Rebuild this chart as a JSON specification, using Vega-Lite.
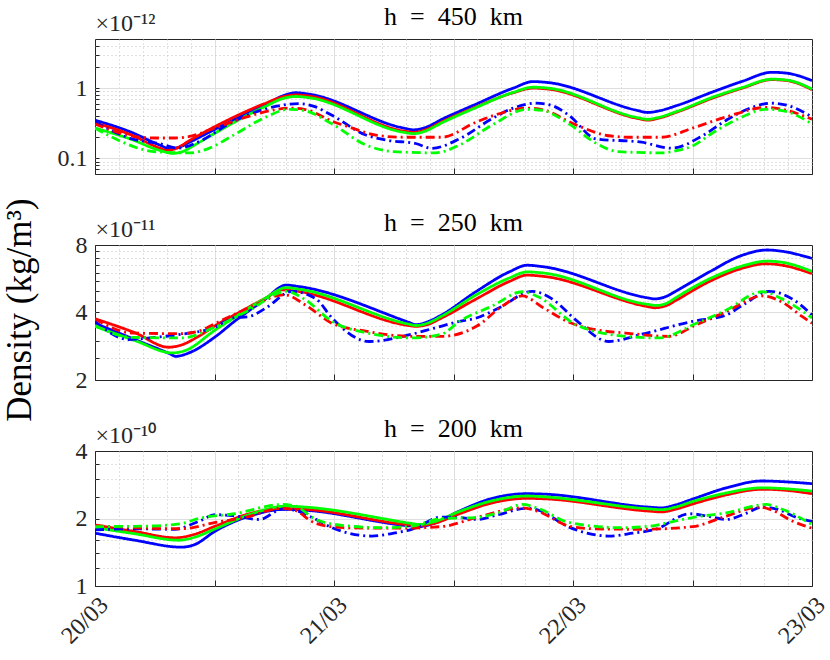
{
"$schema": "https://vega.github.io/schema/vega-lite/v6.json",
"padding": {"left": 3, "top": 3, "right": 0, "bottom": 2},
"title": {"text": "Density (kg/m³)", "orient": "left", "anchor": "middle", "fontSize": 35, "offset": 18, "dx": 16, "font": "Liberation Serif", "fontWeight": "normal", "color": "#000000"},
"data": {"values": [
{"alt":450,"col":"blue","sty":"solid","t":"2015-03-20T00:00","v":0.35},
{"alt":450,"col":"blue","sty":"solid","t":"2015-03-20T03:30","v":0.24},
{"alt":450,"col":"blue","sty":"solid","t":"2015-03-20T06:30","v":0.155},
{"alt":450,"col":"blue","sty":"solid","t":"2015-03-20T07:30","v":0.137},
{"alt":450,"col":"blue","sty":"solid","t":"2015-03-20T08:30","v":0.145},
{"alt":450,"col":"blue","sty":"solid","t":"2015-03-20T09:30","v":0.17},
{"alt":450,"col":"blue","sty":"solid","t":"2015-03-20T13:30","v":0.33},
{"alt":450,"col":"blue","sty":"solid","t":"2015-03-20T17:00","v":0.57},
{"alt":450,"col":"blue","sty":"solid","t":"2015-03-20T19:00","v":0.79},
{"alt":450,"col":"blue","sty":"solid","t":"2015-03-20T20:12","v":0.86},
{"alt":450,"col":"blue","sty":"solid","t":"2015-03-20T21:30","v":0.82},
{"alt":450,"col":"blue","sty":"solid","t":"2015-03-21T07:00","v":0.27},
{"alt":450,"col":"blue","sty":"solid","t":"2015-03-21T08:00","v":0.255},
{"alt":450,"col":"blue","sty":"solid","t":"2015-03-21T09:00","v":0.27},
{"alt":450,"col":"blue","sty":"solid","t":"2015-03-21T11:00","v":0.37},
{"alt":450,"col":"blue","sty":"solid","t":"2015-03-21T14:00","v":0.57},
{"alt":450,"col":"blue","sty":"solid","t":"2015-03-21T18:00","v":1.0},
{"alt":450,"col":"blue","sty":"solid","t":"2015-03-21T20:00","v":1.24},
{"alt":450,"col":"blue","sty":"solid","t":"2015-03-21T21:30","v":1.2},
{"alt":450,"col":"blue","sty":"solid","t":"2015-03-22T06:30","v":0.48},
{"alt":450,"col":"blue","sty":"solid","t":"2015-03-22T07:30","v":0.45},
{"alt":450,"col":"blue","sty":"solid","t":"2015-03-22T08:30","v":0.47},
{"alt":450,"col":"blue","sty":"solid","t":"2015-03-22T10:30","v":0.57},
{"alt":450,"col":"blue","sty":"solid","t":"2015-03-22T14:00","v":0.88},
{"alt":450,"col":"blue","sty":"solid","t":"2015-03-22T17:00","v":1.25},
{"alt":450,"col":"blue","sty":"solid","t":"2015-03-22T20:00","v":1.68},
{"alt":450,"col":"blue","sty":"solid","t":"2015-03-22T21:30","v":1.63},
{"alt":450,"col":"blue","sty":"solid","t":"2015-03-23T00:00","v":1.28},
{"alt":450,"col":"red","sty":"solid","t":"2015-03-20T00:00","v":0.32},
{"alt":450,"col":"red","sty":"solid","t":"2015-03-20T03:30","v":0.22},
{"alt":450,"col":"red","sty":"solid","t":"2015-03-20T06:30","v":0.14},
{"alt":450,"col":"red","sty":"solid","t":"2015-03-20T07:12","v":0.13},
{"alt":450,"col":"red","sty":"solid","t":"2015-03-20T08:12","v":0.14},
{"alt":450,"col":"red","sty":"solid","t":"2015-03-20T09:30","v":0.18},
{"alt":450,"col":"red","sty":"solid","t":"2015-03-20T13:30","v":0.36},
{"alt":450,"col":"red","sty":"solid","t":"2015-03-20T17:00","v":0.6},
{"alt":450,"col":"red","sty":"solid","t":"2015-03-20T19:00","v":0.76},
{"alt":450,"col":"red","sty":"solid","t":"2015-03-20T20:12","v":0.8},
{"alt":450,"col":"red","sty":"solid","t":"2015-03-20T21:30","v":0.77},
{"alt":450,"col":"red","sty":"solid","t":"2015-03-21T07:00","v":0.245},
{"alt":450,"col":"red","sty":"solid","t":"2015-03-21T08:00","v":0.235},
{"alt":450,"col":"red","sty":"solid","t":"2015-03-21T09:00","v":0.25},
{"alt":450,"col":"red","sty":"solid","t":"2015-03-21T11:00","v":0.34},
{"alt":450,"col":"red","sty":"solid","t":"2015-03-21T14:00","v":0.52},
{"alt":450,"col":"red","sty":"solid","t":"2015-03-21T18:00","v":0.86},
{"alt":450,"col":"red","sty":"solid","t":"2015-03-21T20:00","v":1.0},
{"alt":450,"col":"red","sty":"solid","t":"2015-03-21T21:30","v":0.97},
{"alt":450,"col":"red","sty":"solid","t":"2015-03-22T06:30","v":0.37},
{"alt":450,"col":"red","sty":"solid","t":"2015-03-22T07:30","v":0.35},
{"alt":450,"col":"red","sty":"solid","t":"2015-03-22T08:30","v":0.37},
{"alt":450,"col":"red","sty":"solid","t":"2015-03-22T10:30","v":0.46},
{"alt":450,"col":"red","sty":"solid","t":"2015-03-22T14:00","v":0.72},
{"alt":450,"col":"red","sty":"solid","t":"2015-03-22T17:00","v":1.0},
{"alt":450,"col":"red","sty":"solid","t":"2015-03-22T20:00","v":1.32},
{"alt":450,"col":"red","sty":"solid","t":"2015-03-22T21:30","v":1.28},
{"alt":450,"col":"red","sty":"solid","t":"2015-03-23T00:00","v":0.95},
{"alt":450,"col":"green","sty":"solid","t":"2015-03-20T00:00","v":0.27},
{"alt":450,"col":"green","sty":"solid","t":"2015-03-20T03:30","v":0.19},
{"alt":450,"col":"green","sty":"solid","t":"2015-03-20T06:30","v":0.13},
{"alt":450,"col":"green","sty":"solid","t":"2015-03-20T07:48","v":0.118},
{"alt":450,"col":"green","sty":"solid","t":"2015-03-20T08:48","v":0.125},
{"alt":450,"col":"green","sty":"solid","t":"2015-03-20T10:00","v":0.155},
{"alt":450,"col":"green","sty":"solid","t":"2015-03-20T13:30","v":0.3},
{"alt":450,"col":"green","sty":"solid","t":"2015-03-20T17:00","v":0.54},
{"alt":450,"col":"green","sty":"solid","t":"2015-03-20T19:00","v":0.72},
{"alt":450,"col":"green","sty":"solid","t":"2015-03-20T20:12","v":0.76},
{"alt":450,"col":"green","sty":"solid","t":"2015-03-20T21:30","v":0.73},
{"alt":450,"col":"green","sty":"solid","t":"2015-03-21T07:00","v":0.235},
{"alt":450,"col":"green","sty":"solid","t":"2015-03-21T08:00","v":0.225},
{"alt":450,"col":"green","sty":"solid","t":"2015-03-21T09:00","v":0.24},
{"alt":450,"col":"green","sty":"solid","t":"2015-03-21T11:00","v":0.33},
{"alt":450,"col":"green","sty":"solid","t":"2015-03-21T14:00","v":0.51},
{"alt":450,"col":"green","sty":"solid","t":"2015-03-21T18:00","v":0.87},
{"alt":450,"col":"green","sty":"solid","t":"2015-03-21T20:00","v":1.03},
{"alt":450,"col":"green","sty":"solid","t":"2015-03-21T21:30","v":1.0},
{"alt":450,"col":"green","sty":"solid","t":"2015-03-22T06:30","v":0.38},
{"alt":450,"col":"green","sty":"solid","t":"2015-03-22T07:30","v":0.36},
{"alt":450,"col":"green","sty":"solid","t":"2015-03-22T08:30","v":0.38},
{"alt":450,"col":"green","sty":"solid","t":"2015-03-22T10:30","v":0.47},
{"alt":450,"col":"green","sty":"solid","t":"2015-03-22T14:00","v":0.74},
{"alt":450,"col":"green","sty":"solid","t":"2015-03-22T17:00","v":1.02},
{"alt":450,"col":"green","sty":"solid","t":"2015-03-22T20:00","v":1.34},
{"alt":450,"col":"green","sty":"solid","t":"2015-03-22T21:30","v":1.3},
{"alt":450,"col":"green","sty":"solid","t":"2015-03-23T00:00","v":0.97},
{"alt":450,"col":"blue","sty":"dashdot","t":"2015-03-20T00:00","v":0.33},
{"alt":450,"col":"blue","sty":"dashdot","t":"2015-03-20T03:42","v":0.19},
{"alt":450,"col":"blue","sty":"dashdot","t":"2015-03-20T06:24","v":0.163},
{"alt":450,"col":"blue","sty":"dashdot","t":"2015-03-20T08:24","v":0.14},
{"alt":450,"col":"blue","sty":"dashdot","t":"2015-03-20T10:24","v":0.172},
{"alt":450,"col":"blue","sty":"dashdot","t":"2015-03-20T13:48","v":0.33},
{"alt":450,"col":"blue","sty":"dashdot","t":"2015-03-20T17:00","v":0.5},
{"alt":450,"col":"blue","sty":"dashdot","t":"2015-03-20T20:30","v":0.6},
{"alt":450,"col":"blue","sty":"dashdot","t":"2015-03-20T22:00","v":0.55},
{"alt":450,"col":"blue","sty":"dashdot","t":"2015-03-20T23:48","v":0.41},
{"alt":450,"col":"blue","sty":"dashdot","t":"2015-03-21T03:12","v":0.215},
{"alt":450,"col":"blue","sty":"dashdot","t":"2015-03-21T05:30","v":0.18},
{"alt":450,"col":"blue","sty":"dashdot","t":"2015-03-21T08:12","v":0.163},
{"alt":450,"col":"blue","sty":"dashdot","t":"2015-03-21T09:48","v":0.139},
{"alt":450,"col":"blue","sty":"dashdot","t":"2015-03-21T12:36","v":0.19},
{"alt":450,"col":"blue","sty":"dashdot","t":"2015-03-21T15:54","v":0.37},
{"alt":450,"col":"blue","sty":"dashdot","t":"2015-03-21T18:00","v":0.52},
{"alt":450,"col":"blue","sty":"dashdot","t":"2015-03-21T20:18","v":0.61},
{"alt":450,"col":"blue","sty":"dashdot","t":"2015-03-21T21:48","v":0.57},
{"alt":450,"col":"blue","sty":"dashdot","t":"2015-03-21T23:36","v":0.41},
{"alt":450,"col":"blue","sty":"dashdot","t":"2015-03-22T02:18","v":0.19},
{"alt":450,"col":"blue","sty":"dashdot","t":"2015-03-22T06:54","v":0.17},
{"alt":450,"col":"blue","sty":"dashdot","t":"2015-03-22T09:54","v":0.14},
{"alt":450,"col":"blue","sty":"dashdot","t":"2015-03-22T13:00","v":0.21},
{"alt":450,"col":"blue","sty":"dashdot","t":"2015-03-22T15:24","v":0.35},
{"alt":450,"col":"blue","sty":"dashdot","t":"2015-03-22T17:30","v":0.5},
{"alt":450,"col":"blue","sty":"dashdot","t":"2015-03-22T19:54","v":0.61},
{"alt":450,"col":"blue","sty":"dashdot","t":"2015-03-22T21:30","v":0.57},
{"alt":450,"col":"blue","sty":"dashdot","t":"2015-03-23T00:00","v":0.39},
{"alt":450,"col":"red","sty":"dashdot","t":"2015-03-20T00:00","v":0.31},
{"alt":450,"col":"red","sty":"dashdot","t":"2015-03-20T03:00","v":0.22},
{"alt":450,"col":"red","sty":"dashdot","t":"2015-03-20T04:30","v":0.2},
{"alt":450,"col":"red","sty":"dashdot","t":"2015-03-20T06:00","v":0.195},
{"alt":450,"col":"red","sty":"dashdot","t":"2015-03-20T08:00","v":0.195},
{"alt":450,"col":"red","sty":"dashdot","t":"2015-03-20T09:30","v":0.205},
{"alt":450,"col":"red","sty":"dashdot","t":"2015-03-20T12:00","v":0.27},
{"alt":450,"col":"red","sty":"dashdot","t":"2015-03-20T15:00","v":0.38},
{"alt":450,"col":"red","sty":"dashdot","t":"2015-03-20T18:00","v":0.49},
{"alt":450,"col":"red","sty":"dashdot","t":"2015-03-20T19:30","v":0.52},
{"alt":450,"col":"red","sty":"dashdot","t":"2015-03-20T21:00","v":0.5},
{"alt":450,"col":"red","sty":"dashdot","t":"2015-03-21T00:00","v":0.33},
{"alt":450,"col":"red","sty":"dashdot","t":"2015-03-21T01:30","v":0.28},
{"alt":450,"col":"red","sty":"dashdot","t":"2015-03-21T04:12","v":0.215},
{"alt":450,"col":"red","sty":"dashdot","t":"2015-03-21T07:00","v":0.2},
{"alt":450,"col":"red","sty":"dashdot","t":"2015-03-21T10:48","v":0.2},
{"alt":450,"col":"red","sty":"dashdot","t":"2015-03-21T14:18","v":0.33},
{"alt":450,"col":"red","sty":"dashdot","t":"2015-03-21T17:00","v":0.45},
{"alt":450,"col":"red","sty":"dashdot","t":"2015-03-21T19:18","v":0.52},
{"alt":450,"col":"red","sty":"dashdot","t":"2015-03-21T21:00","v":0.49},
{"alt":450,"col":"red","sty":"dashdot","t":"2015-03-22T00:18","v":0.3},
{"alt":450,"col":"red","sty":"dashdot","t":"2015-03-22T03:36","v":0.21},
{"alt":450,"col":"red","sty":"dashdot","t":"2015-03-22T06:00","v":0.2},
{"alt":450,"col":"red","sty":"dashdot","t":"2015-03-22T08:54","v":0.2},
{"alt":450,"col":"red","sty":"dashdot","t":"2015-03-22T12:00","v":0.27},
{"alt":450,"col":"red","sty":"dashdot","t":"2015-03-22T15:24","v":0.39},
{"alt":450,"col":"red","sty":"dashdot","t":"2015-03-22T19:24","v":0.53},
{"alt":450,"col":"red","sty":"dashdot","t":"2015-03-22T21:00","v":0.5},
{"alt":450,"col":"red","sty":"dashdot","t":"2015-03-23T00:00","v":0.36},
{"alt":450,"col":"green","sty":"dashdot","t":"2015-03-20T00:00","v":0.27},
{"alt":450,"col":"green","sty":"dashdot","t":"2015-03-20T03:00","v":0.165},
{"alt":450,"col":"green","sty":"dashdot","t":"2015-03-20T04:42","v":0.135},
{"alt":450,"col":"green","sty":"dashdot","t":"2015-03-20T06:30","v":0.123},
{"alt":450,"col":"green","sty":"dashdot","t":"2015-03-20T09:30","v":0.12},
{"alt":450,"col":"green","sty":"dashdot","t":"2015-03-20T11:30","v":0.14},
{"alt":450,"col":"green","sty":"dashdot","t":"2015-03-20T13:48","v":0.21},
{"alt":450,"col":"green","sty":"dashdot","t":"2015-03-20T17:12","v":0.39},
{"alt":450,"col":"green","sty":"dashdot","t":"2015-03-20T19:30","v":0.5},
{"alt":450,"col":"green","sty":"dashdot","t":"2015-03-20T21:00","v":0.48},
{"alt":450,"col":"green","sty":"dashdot","t":"2015-03-20T23:48","v":0.31},
{"alt":450,"col":"green","sty":"dashdot","t":"2015-03-21T03:12","v":0.155},
{"alt":450,"col":"green","sty":"dashdot","t":"2015-03-21T06:00","v":0.125},
{"alt":450,"col":"green","sty":"dashdot","t":"2015-03-21T10:12","v":0.12},
{"alt":450,"col":"green","sty":"dashdot","t":"2015-03-21T12:36","v":0.155},
{"alt":450,"col":"green","sty":"dashdot","t":"2015-03-21T15:54","v":0.3},
{"alt":450,"col":"green","sty":"dashdot","t":"2015-03-21T19:24","v":0.5},
{"alt":450,"col":"green","sty":"dashdot","t":"2015-03-21T21:00","v":0.48},
{"alt":450,"col":"green","sty":"dashdot","t":"2015-03-21T23:36","v":0.31},
{"alt":450,"col":"green","sty":"dashdot","t":"2015-03-22T02:18","v":0.165},
{"alt":450,"col":"green","sty":"dashdot","t":"2015-03-22T04:30","v":0.125},
{"alt":450,"col":"green","sty":"dashdot","t":"2015-03-22T09:00","v":0.12},
{"alt":450,"col":"green","sty":"dashdot","t":"2015-03-22T10:30","v":0.13},
{"alt":450,"col":"green","sty":"dashdot","t":"2015-03-22T12:00","v":0.15},
{"alt":450,"col":"green","sty":"dashdot","t":"2015-03-22T14:00","v":0.23},
{"alt":450,"col":"green","sty":"dashdot","t":"2015-03-22T16:30","v":0.36},
{"alt":450,"col":"green","sty":"dashdot","t":"2015-03-22T19:24","v":0.5},
{"alt":450,"col":"green","sty":"dashdot","t":"2015-03-22T21:00","v":0.48},
{"alt":450,"col":"green","sty":"dashdot","t":"2015-03-23T00:00","v":0.31},
{"alt":250,"col":"blue","sty":"solid","t":"2015-03-20T00:00","v":3.58},
{"alt":250,"col":"blue","sty":"solid","t":"2015-03-20T04:00","v":3.03},
{"alt":250,"col":"blue","sty":"solid","t":"2015-03-20T07:30","v":2.62},
{"alt":250,"col":"blue","sty":"solid","t":"2015-03-20T08:06","v":2.55},
{"alt":250,"col":"blue","sty":"solid","t":"2015-03-20T09:30","v":2.65},
{"alt":250,"col":"blue","sty":"solid","t":"2015-03-20T12:00","v":3.1},
{"alt":250,"col":"blue","sty":"solid","t":"2015-03-20T14:00","v":3.65},
{"alt":250,"col":"blue","sty":"solid","t":"2015-03-20T17:00","v":4.55},
{"alt":250,"col":"blue","sty":"solid","t":"2015-03-20T19:12","v":5.3},
{"alt":250,"col":"blue","sty":"solid","t":"2015-03-20T20:30","v":5.22},
{"alt":250,"col":"blue","sty":"solid","t":"2015-03-21T07:30","v":3.62},
{"alt":250,"col":"blue","sty":"solid","t":"2015-03-21T08:12","v":3.53},
{"alt":250,"col":"blue","sty":"solid","t":"2015-03-21T09:30","v":3.65},
{"alt":250,"col":"blue","sty":"solid","t":"2015-03-21T10:48","v":3.9},
{"alt":250,"col":"blue","sty":"solid","t":"2015-03-21T14:18","v":4.97},
{"alt":250,"col":"blue","sty":"solid","t":"2015-03-21T17:36","v":6.07},
{"alt":250,"col":"blue","sty":"solid","t":"2015-03-21T19:24","v":6.5},
{"alt":250,"col":"blue","sty":"solid","t":"2015-03-21T21:00","v":6.4},
{"alt":250,"col":"blue","sty":"solid","t":"2015-03-22T07:30","v":4.65},
{"alt":250,"col":"blue","sty":"solid","t":"2015-03-22T08:12","v":4.6},
{"alt":250,"col":"blue","sty":"solid","t":"2015-03-22T09:30","v":4.75},
{"alt":250,"col":"blue","sty":"solid","t":"2015-03-22T10:18","v":4.97},
{"alt":250,"col":"blue","sty":"solid","t":"2015-03-22T13:42","v":6.07},
{"alt":250,"col":"blue","sty":"solid","t":"2015-03-22T17:00","v":7.2},
{"alt":250,"col":"blue","sty":"solid","t":"2015-03-22T19:30","v":7.6},
{"alt":250,"col":"blue","sty":"solid","t":"2015-03-22T21:00","v":7.5},
{"alt":250,"col":"blue","sty":"solid","t":"2015-03-23T00:00","v":6.97},
{"alt":250,"col":"red","sty":"solid","t":"2015-03-20T00:00","v":3.75},
{"alt":250,"col":"red","sty":"solid","t":"2015-03-20T04:00","v":3.25},
{"alt":250,"col":"red","sty":"solid","t":"2015-03-20T07:24","v":2.8},
{"alt":250,"col":"red","sty":"solid","t":"2015-03-20T08:30","v":2.85},
{"alt":250,"col":"red","sty":"solid","t":"2015-03-20T10:30","v":3.15},
{"alt":250,"col":"red","sty":"solid","t":"2015-03-20T12:06","v":3.5},
{"alt":250,"col":"red","sty":"solid","t":"2015-03-20T14:00","v":3.9},
{"alt":250,"col":"red","sty":"solid","t":"2015-03-20T17:00","v":4.6},
{"alt":250,"col":"red","sty":"solid","t":"2015-03-20T18:48","v":5.05},
{"alt":250,"col":"red","sty":"solid","t":"2015-03-20T20:12","v":4.98},
{"alt":250,"col":"red","sty":"solid","t":"2015-03-21T07:30","v":3.5},
{"alt":250,"col":"red","sty":"solid","t":"2015-03-21T08:12","v":3.47},
{"alt":250,"col":"red","sty":"solid","t":"2015-03-21T09:30","v":3.55},
{"alt":250,"col":"red","sty":"solid","t":"2015-03-21T10:48","v":3.78},
{"alt":250,"col":"red","sty":"solid","t":"2015-03-21T14:18","v":4.6},
{"alt":250,"col":"red","sty":"solid","t":"2015-03-21T17:36","v":5.5},
{"alt":250,"col":"red","sty":"solid","t":"2015-03-21T19:24","v":5.87},
{"alt":250,"col":"red","sty":"solid","t":"2015-03-21T21:00","v":5.8},
{"alt":250,"col":"red","sty":"solid","t":"2015-03-22T07:30","v":4.25},
{"alt":250,"col":"red","sty":"solid","t":"2015-03-22T08:12","v":4.2},
{"alt":250,"col":"red","sty":"solid","t":"2015-03-22T09:30","v":4.32},
{"alt":250,"col":"red","sty":"solid","t":"2015-03-22T10:18","v":4.52},
{"alt":250,"col":"red","sty":"solid","t":"2015-03-22T13:42","v":5.5},
{"alt":250,"col":"red","sty":"solid","t":"2015-03-22T17:00","v":6.3},
{"alt":250,"col":"red","sty":"solid","t":"2015-03-22T19:24","v":6.6},
{"alt":250,"col":"red","sty":"solid","t":"2015-03-22T21:00","v":6.5},
{"alt":250,"col":"red","sty":"solid","t":"2015-03-23T00:00","v":5.96},
{"alt":250,"col":"green","sty":"solid","t":"2015-03-20T00:00","v":3.47},
{"alt":250,"col":"green","sty":"solid","t":"2015-03-20T04:00","v":3.0},
{"alt":250,"col":"green","sty":"solid","t":"2015-03-20T07:48","v":2.64},
{"alt":250,"col":"green","sty":"solid","t":"2015-03-20T09:00","v":2.7},
{"alt":250,"col":"green","sty":"solid","t":"2015-03-20T12:06","v":3.35},
{"alt":250,"col":"green","sty":"solid","t":"2015-03-20T14:00","v":3.8},
{"alt":250,"col":"green","sty":"solid","t":"2015-03-20T17:00","v":4.6},
{"alt":250,"col":"green","sty":"solid","t":"2015-03-20T19:12","v":5.16},
{"alt":250,"col":"green","sty":"solid","t":"2015-03-20T20:30","v":5.08},
{"alt":250,"col":"green","sty":"solid","t":"2015-03-21T07:30","v":3.55},
{"alt":250,"col":"green","sty":"solid","t":"2015-03-21T08:12","v":3.5},
{"alt":250,"col":"green","sty":"solid","t":"2015-03-21T09:30","v":3.6},
{"alt":250,"col":"green","sty":"solid","t":"2015-03-21T10:48","v":3.85},
{"alt":250,"col":"green","sty":"solid","t":"2015-03-21T14:18","v":4.8},
{"alt":250,"col":"green","sty":"solid","t":"2015-03-21T17:36","v":5.7},
{"alt":250,"col":"green","sty":"solid","t":"2015-03-21T19:24","v":6.07},
{"alt":250,"col":"green","sty":"solid","t":"2015-03-21T21:00","v":6.0},
{"alt":250,"col":"green","sty":"solid","t":"2015-03-22T07:30","v":4.35},
{"alt":250,"col":"green","sty":"solid","t":"2015-03-22T08:30","v":4.3},
{"alt":250,"col":"green","sty":"solid","t":"2015-03-22T09:30","v":4.42},
{"alt":250,"col":"green","sty":"solid","t":"2015-03-22T10:18","v":4.65},
{"alt":250,"col":"green","sty":"solid","t":"2015-03-22T13:42","v":5.65},
{"alt":250,"col":"green","sty":"solid","t":"2015-03-22T17:00","v":6.45},
{"alt":250,"col":"green","sty":"solid","t":"2015-03-22T19:30","v":6.78},
{"alt":250,"col":"green","sty":"solid","t":"2015-03-22T21:00","v":6.7},
{"alt":250,"col":"green","sty":"solid","t":"2015-03-23T00:00","v":6.1},
{"alt":250,"col":"blue","sty":"dashdot","t":"2015-03-20T00:00","v":3.65},
{"alt":250,"col":"blue","sty":"dashdot","t":"2015-03-20T03:24","v":3.03},
{"alt":250,"col":"blue","sty":"dashdot","t":"2015-03-20T06:00","v":3.1},
{"alt":250,"col":"blue","sty":"dashdot","t":"2015-03-20T08:42","v":3.2},
{"alt":250,"col":"blue","sty":"dashdot","t":"2015-03-20T12:06","v":3.45},
{"alt":250,"col":"blue","sty":"dashdot","t":"2015-03-20T13:48","v":3.78},
{"alt":250,"col":"blue","sty":"dashdot","t":"2015-03-20T15:30","v":3.84},
{"alt":250,"col":"blue","sty":"dashdot","t":"2015-03-20T17:12","v":4.2},
{"alt":250,"col":"blue","sty":"dashdot","t":"2015-03-20T19:48","v":4.97},
{"alt":250,"col":"blue","sty":"dashdot","t":"2015-03-20T22:12","v":4.6},
{"alt":250,"col":"blue","sty":"dashdot","t":"2015-03-20T23:48","v":3.78},
{"alt":250,"col":"blue","sty":"dashdot","t":"2015-03-21T03:30","v":2.97},
{"alt":250,"col":"blue","sty":"dashdot","t":"2015-03-21T07:48","v":3.2},
{"alt":250,"col":"blue","sty":"dashdot","t":"2015-03-21T10:00","v":3.4},
{"alt":250,"col":"blue","sty":"dashdot","t":"2015-03-21T12:36","v":3.65},
{"alt":250,"col":"blue","sty":"dashdot","t":"2015-03-21T14:18","v":3.78},
{"alt":250,"col":"blue","sty":"dashdot","t":"2015-03-21T16:36","v":4.2},
{"alt":250,"col":"blue","sty":"dashdot","t":"2015-03-21T19:54","v":4.97},
{"alt":250,"col":"blue","sty":"dashdot","t":"2015-03-21T21:54","v":4.6},
{"alt":250,"col":"blue","sty":"dashdot","t":"2015-03-22T00:18","v":3.7},
{"alt":250,"col":"blue","sty":"dashdot","t":"2015-03-22T03:36","v":2.97},
{"alt":250,"col":"blue","sty":"dashdot","t":"2015-03-22T06:54","v":3.2},
{"alt":250,"col":"blue","sty":"dashdot","t":"2015-03-22T12:00","v":3.65},
{"alt":250,"col":"blue","sty":"dashdot","t":"2015-03-22T15:24","v":3.9},
{"alt":250,"col":"blue","sty":"dashdot","t":"2015-03-22T17:00","v":4.3},
{"alt":250,"col":"blue","sty":"dashdot","t":"2015-03-22T19:42","v":4.97},
{"alt":250,"col":"blue","sty":"dashdot","t":"2015-03-22T22:00","v":4.6},
{"alt":250,"col":"blue","sty":"dashdot","t":"2015-03-23T00:00","v":3.9},
{"alt":250,"col":"red","sty":"dashdot","t":"2015-03-20T00:00","v":3.75},
{"alt":250,"col":"red","sty":"dashdot","t":"2015-03-20T03:42","v":3.24},
{"alt":250,"col":"red","sty":"dashdot","t":"2015-03-20T08:42","v":3.22},
{"alt":250,"col":"red","sty":"dashdot","t":"2015-03-20T10:24","v":3.3},
{"alt":250,"col":"red","sty":"dashdot","t":"2015-03-20T12:06","v":3.58},
{"alt":250,"col":"red","sty":"dashdot","t":"2015-03-20T15:30","v":4.2},
{"alt":250,"col":"red","sty":"dashdot","t":"2015-03-20T19:00","v":4.8},
{"alt":250,"col":"red","sty":"dashdot","t":"2015-03-20T21:12","v":4.3},
{"alt":250,"col":"red","sty":"dashdot","t":"2015-03-20T23:48","v":3.58},
{"alt":250,"col":"red","sty":"dashdot","t":"2015-03-21T03:12","v":3.3},
{"alt":250,"col":"red","sty":"dashdot","t":"2015-03-21T07:48","v":3.13},
{"alt":250,"col":"red","sty":"dashdot","t":"2015-03-21T10:48","v":3.13},
{"alt":250,"col":"red","sty":"dashdot","t":"2015-03-21T14:18","v":3.47},
{"alt":250,"col":"red","sty":"dashdot","t":"2015-03-21T17:00","v":4.3},
{"alt":250,"col":"red","sty":"dashdot","t":"2015-03-21T18:54","v":4.74},
{"alt":250,"col":"red","sty":"dashdot","t":"2015-03-21T21:00","v":4.2},
{"alt":250,"col":"red","sty":"dashdot","t":"2015-03-21T23:36","v":3.62},
{"alt":250,"col":"red","sty":"dashdot","t":"2015-03-22T02:18","v":3.35},
{"alt":250,"col":"red","sty":"dashdot","t":"2015-03-22T05:18","v":3.24},
{"alt":250,"col":"red","sty":"dashdot","t":"2015-03-22T09:36","v":3.13},
{"alt":250,"col":"red","sty":"dashdot","t":"2015-03-22T12:24","v":3.53},
{"alt":250,"col":"red","sty":"dashdot","t":"2015-03-22T15:24","v":4.04},
{"alt":250,"col":"red","sty":"dashdot","t":"2015-03-22T19:00","v":4.74},
{"alt":250,"col":"red","sty":"dashdot","t":"2015-03-22T21:00","v":4.45},
{"alt":250,"col":"red","sty":"dashdot","t":"2015-03-22T23:00","v":3.84},
{"alt":250,"col":"red","sty":"dashdot","t":"2015-03-23T00:00","v":3.58},
{"alt":250,"col":"green","sty":"dashdot","t":"2015-03-20T00:00","v":3.5},
{"alt":250,"col":"green","sty":"dashdot","t":"2015-03-20T03:42","v":3.1},
{"alt":250,"col":"green","sty":"dashdot","t":"2015-03-20T08:42","v":3.08},
{"alt":250,"col":"green","sty":"dashdot","t":"2015-03-20T12:06","v":3.45},
{"alt":250,"col":"green","sty":"dashdot","t":"2015-03-20T15:30","v":4.1},
{"alt":250,"col":"green","sty":"dashdot","t":"2015-03-20T19:12","v":4.97},
{"alt":250,"col":"green","sty":"dashdot","t":"2015-03-20T21:00","v":4.6},
{"alt":250,"col":"green","sty":"dashdot","t":"2015-03-20T23:48","v":3.65},
{"alt":250,"col":"green","sty":"dashdot","t":"2015-03-21T03:12","v":3.25},
{"alt":250,"col":"green","sty":"dashdot","t":"2015-03-21T07:48","v":3.08},
{"alt":250,"col":"green","sty":"dashdot","t":"2015-03-21T10:48","v":3.2},
{"alt":250,"col":"green","sty":"dashdot","t":"2015-03-21T12:36","v":3.65},
{"alt":250,"col":"green","sty":"dashdot","t":"2015-03-21T16:00","v":4.3},
{"alt":250,"col":"green","sty":"dashdot","t":"2015-03-21T18:54","v":4.95},
{"alt":250,"col":"green","sty":"dashdot","t":"2015-03-21T20:30","v":4.7},
{"alt":250,"col":"green","sty":"dashdot","t":"2015-03-22T00:18","v":3.53},
{"alt":250,"col":"green","sty":"dashdot","t":"2015-03-22T05:18","v":3.13},
{"alt":250,"col":"green","sty":"dashdot","t":"2015-03-22T08:36","v":3.08},
{"alt":250,"col":"green","sty":"dashdot","t":"2015-03-22T12:24","v":3.58},
{"alt":250,"col":"green","sty":"dashdot","t":"2015-03-22T15:24","v":4.1},
{"alt":250,"col":"green","sty":"dashdot","t":"2015-03-22T19:00","v":4.95},
{"alt":250,"col":"green","sty":"dashdot","t":"2015-03-22T21:00","v":4.6},
{"alt":250,"col":"green","sty":"dashdot","t":"2015-03-23T00:00","v":3.78},
{"alt":200,"col":"blue","sty":"solid","t":"2015-03-20T00:00","v":1.72},
{"alt":200,"col":"blue","sty":"solid","t":"2015-03-20T04:00","v":1.6},
{"alt":200,"col":"blue","sty":"solid","t":"2015-03-20T08:42","v":1.49},
{"alt":200,"col":"blue","sty":"solid","t":"2015-03-20T10:00","v":1.53},
{"alt":200,"col":"blue","sty":"solid","t":"2015-03-20T12:06","v":1.76},
{"alt":200,"col":"blue","sty":"solid","t":"2015-03-20T15:30","v":2.05},
{"alt":200,"col":"blue","sty":"solid","t":"2015-03-20T19:12","v":2.2},
{"alt":200,"col":"blue","sty":"solid","t":"2015-03-20T21:00","v":2.18},
{"alt":200,"col":"blue","sty":"solid","t":"2015-03-21T07:48","v":1.85},
{"alt":200,"col":"blue","sty":"solid","t":"2015-03-21T08:30","v":1.84},
{"alt":200,"col":"blue","sty":"solid","t":"2015-03-21T10:00","v":1.9},
{"alt":200,"col":"blue","sty":"solid","t":"2015-03-21T12:36","v":2.16},
{"alt":200,"col":"blue","sty":"solid","t":"2015-03-21T15:54","v":2.46},
{"alt":200,"col":"blue","sty":"solid","t":"2015-03-21T19:24","v":2.58},
{"alt":200,"col":"blue","sty":"solid","t":"2015-03-21T21:00","v":2.57},
{"alt":200,"col":"blue","sty":"solid","t":"2015-03-22T07:30","v":2.25},
{"alt":200,"col":"blue","sty":"solid","t":"2015-03-22T08:54","v":2.23},
{"alt":200,"col":"blue","sty":"solid","t":"2015-03-22T10:18","v":2.3},
{"alt":200,"col":"blue","sty":"solid","t":"2015-03-22T12:00","v":2.44},
{"alt":200,"col":"blue","sty":"solid","t":"2015-03-22T15:24","v":2.74},
{"alt":200,"col":"blue","sty":"solid","t":"2015-03-22T19:00","v":2.94},
{"alt":200,"col":"blue","sty":"solid","t":"2015-03-22T21:00","v":2.92},
{"alt":200,"col":"blue","sty":"solid","t":"2015-03-23T00:00","v":2.86},
{"alt":200,"col":"red","sty":"solid","t":"2015-03-20T00:00","v":1.87},
{"alt":200,"col":"red","sty":"solid","t":"2015-03-20T04:00","v":1.75},
{"alt":200,"col":"red","sty":"solid","t":"2015-03-20T08:06","v":1.64},
{"alt":200,"col":"red","sty":"solid","t":"2015-03-20T10:00","v":1.7},
{"alt":200,"col":"red","sty":"solid","t":"2015-03-20T12:06","v":1.85},
{"alt":200,"col":"red","sty":"solid","t":"2015-03-20T15:30","v":2.1},
{"alt":200,"col":"red","sty":"solid","t":"2015-03-20T18:48","v":2.22},
{"alt":200,"col":"red","sty":"solid","t":"2015-03-20T21:00","v":2.2},
{"alt":200,"col":"red","sty":"solid","t":"2015-03-21T07:48","v":1.87},
{"alt":200,"col":"red","sty":"solid","t":"2015-03-21T08:30","v":1.86},
{"alt":200,"col":"red","sty":"solid","t":"2015-03-21T10:00","v":1.9},
{"alt":200,"col":"red","sty":"solid","t":"2015-03-21T12:36","v":2.1},
{"alt":200,"col":"red","sty":"solid","t":"2015-03-21T15:54","v":2.35},
{"alt":200,"col":"red","sty":"solid","t":"2015-03-21T19:24","v":2.46},
{"alt":200,"col":"red","sty":"solid","t":"2015-03-21T21:00","v":2.45},
{"alt":200,"col":"red","sty":"solid","t":"2015-03-22T07:30","v":2.16},
{"alt":200,"col":"red","sty":"solid","t":"2015-03-22T08:54","v":2.14},
{"alt":200,"col":"red","sty":"solid","t":"2015-03-22T10:18","v":2.2},
{"alt":200,"col":"red","sty":"solid","t":"2015-03-22T12:00","v":2.32},
{"alt":200,"col":"red","sty":"solid","t":"2015-03-22T15:24","v":2.55},
{"alt":200,"col":"red","sty":"solid","t":"2015-03-22T19:00","v":2.7},
{"alt":200,"col":"red","sty":"solid","t":"2015-03-22T21:00","v":2.68},
{"alt":200,"col":"red","sty":"solid","t":"2015-03-23T00:00","v":2.58},
{"alt":200,"col":"green","sty":"solid","t":"2015-03-20T00:00","v":1.82},
{"alt":200,"col":"green","sty":"solid","t":"2015-03-20T04:00","v":1.71},
{"alt":200,"col":"green","sty":"solid","t":"2015-03-20T08:24","v":1.6},
{"alt":200,"col":"green","sty":"solid","t":"2015-03-20T10:00","v":1.65},
{"alt":200,"col":"green","sty":"solid","t":"2015-03-20T12:06","v":1.8},
{"alt":200,"col":"green","sty":"solid","t":"2015-03-20T15:30","v":2.08},
{"alt":200,"col":"green","sty":"solid","t":"2015-03-20T19:12","v":2.27},
{"alt":200,"col":"green","sty":"solid","t":"2015-03-20T21:00","v":2.25},
{"alt":200,"col":"green","sty":"solid","t":"2015-03-21T07:48","v":1.9},
{"alt":200,"col":"green","sty":"solid","t":"2015-03-21T08:30","v":1.88},
{"alt":200,"col":"green","sty":"solid","t":"2015-03-21T10:00","v":1.93},
{"alt":200,"col":"green","sty":"solid","t":"2015-03-21T12:36","v":2.15},
{"alt":200,"col":"green","sty":"solid","t":"2015-03-21T15:54","v":2.4},
{"alt":200,"col":"green","sty":"solid","t":"2015-03-21T19:24","v":2.52},
{"alt":200,"col":"green","sty":"solid","t":"2015-03-21T21:00","v":2.5},
{"alt":200,"col":"green","sty":"solid","t":"2015-03-22T07:30","v":2.21},
{"alt":200,"col":"green","sty":"solid","t":"2015-03-22T08:54","v":2.19},
{"alt":200,"col":"green","sty":"solid","t":"2015-03-22T10:18","v":2.25},
{"alt":200,"col":"green","sty":"solid","t":"2015-03-22T12:00","v":2.38},
{"alt":200,"col":"green","sty":"solid","t":"2015-03-22T15:24","v":2.6},
{"alt":200,"col":"green","sty":"solid","t":"2015-03-22T19:00","v":2.74},
{"alt":200,"col":"green","sty":"solid","t":"2015-03-22T21:00","v":2.72},
{"alt":200,"col":"green","sty":"solid","t":"2015-03-23T00:00","v":2.65},
{"alt":200,"col":"blue","sty":"dashdot","t":"2015-03-20T00:00","v":1.78},
{"alt":200,"col":"blue","sty":"dashdot","t":"2015-03-20T04:00","v":1.8},
{"alt":200,"col":"blue","sty":"dashdot","t":"2015-03-20T08:00","v":1.79},
{"alt":200,"col":"blue","sty":"dashdot","t":"2015-03-20T10:30","v":1.95},
{"alt":200,"col":"blue","sty":"dashdot","t":"2015-03-20T12:06","v":2.08},
{"alt":200,"col":"blue","sty":"dashdot","t":"2015-03-20T13:48","v":2.06},
{"alt":200,"col":"blue","sty":"dashdot","t":"2015-03-20T16:30","v":1.98},
{"alt":200,"col":"blue","sty":"dashdot","t":"2015-03-20T18:48","v":2.2},
{"alt":200,"col":"blue","sty":"dashdot","t":"2015-03-20T20:00","v":2.18},
{"alt":200,"col":"blue","sty":"dashdot","t":"2015-03-20T22:00","v":2.0},
{"alt":200,"col":"blue","sty":"dashdot","t":"2015-03-20T23:48","v":1.82},
{"alt":200,"col":"blue","sty":"dashdot","t":"2015-03-21T03:48","v":1.67},
{"alt":200,"col":"blue","sty":"dashdot","t":"2015-03-21T06:00","v":1.72},
{"alt":200,"col":"blue","sty":"dashdot","t":"2015-03-21T07:48","v":1.79},
{"alt":200,"col":"blue","sty":"dashdot","t":"2015-03-21T10:48","v":2.03},
{"alt":200,"col":"blue","sty":"dashdot","t":"2015-03-21T12:36","v":2.02},
{"alt":200,"col":"blue","sty":"dashdot","t":"2015-03-21T14:18","v":1.98},
{"alt":200,"col":"blue","sty":"dashdot","t":"2015-03-21T16:30","v":2.08},
{"alt":200,"col":"blue","sty":"dashdot","t":"2015-03-21T19:18","v":2.22},
{"alt":200,"col":"blue","sty":"dashdot","t":"2015-03-21T20:30","v":2.18},
{"alt":200,"col":"blue","sty":"dashdot","t":"2015-03-21T23:36","v":1.83},
{"alt":200,"col":"blue","sty":"dashdot","t":"2015-03-22T03:36","v":1.67},
{"alt":200,"col":"blue","sty":"dashdot","t":"2015-03-22T06:00","v":1.72},
{"alt":200,"col":"blue","sty":"dashdot","t":"2015-03-22T08:18","v":1.79},
{"alt":200,"col":"blue","sty":"dashdot","t":"2015-03-22T11:42","v":2.1},
{"alt":200,"col":"blue","sty":"dashdot","t":"2015-03-22T13:30","v":2.05},
{"alt":200,"col":"blue","sty":"dashdot","t":"2015-03-22T15:24","v":1.98},
{"alt":200,"col":"blue","sty":"dashdot","t":"2015-03-22T17:30","v":2.12},
{"alt":200,"col":"blue","sty":"dashdot","t":"2015-03-22T19:00","v":2.25},
{"alt":200,"col":"blue","sty":"dashdot","t":"2015-03-22T20:30","v":2.2},
{"alt":200,"col":"blue","sty":"dashdot","t":"2015-03-22T22:30","v":2.02},
{"alt":200,"col":"blue","sty":"dashdot","t":"2015-03-23T00:00","v":1.94},
{"alt":200,"col":"red","sty":"dashdot","t":"2015-03-20T00:00","v":1.86},
{"alt":200,"col":"red","sty":"dashdot","t":"2015-03-20T05:24","v":1.81},
{"alt":200,"col":"red","sty":"dashdot","t":"2015-03-20T08:42","v":1.8},
{"alt":200,"col":"red","sty":"dashdot","t":"2015-03-20T12:06","v":1.92},
{"alt":200,"col":"red","sty":"dashdot","t":"2015-03-20T15:00","v":2.02},
{"alt":200,"col":"red","sty":"dashdot","t":"2015-03-20T18:48","v":2.22},
{"alt":200,"col":"red","sty":"dashdot","t":"2015-03-20T20:00","v":2.18},
{"alt":200,"col":"red","sty":"dashdot","t":"2015-03-20T22:12","v":1.9},
{"alt":200,"col":"red","sty":"dashdot","t":"2015-03-21T01:00","v":1.82},
{"alt":200,"col":"red","sty":"dashdot","t":"2015-03-21T06:00","v":1.81},
{"alt":200,"col":"red","sty":"dashdot","t":"2015-03-21T10:48","v":1.84},
{"alt":200,"col":"red","sty":"dashdot","t":"2015-03-21T14:18","v":2.02},
{"alt":200,"col":"red","sty":"dashdot","t":"2015-03-21T18:54","v":2.23},
{"alt":200,"col":"red","sty":"dashdot","t":"2015-03-21T20:30","v":2.15},
{"alt":200,"col":"red","sty":"dashdot","t":"2015-03-21T23:36","v":1.85},
{"alt":200,"col":"red","sty":"dashdot","t":"2015-03-22T02:00","v":1.8},
{"alt":200,"col":"red","sty":"dashdot","t":"2015-03-22T06:54","v":1.79},
{"alt":200,"col":"red","sty":"dashdot","t":"2015-03-22T12:00","v":1.84},
{"alt":200,"col":"red","sty":"dashdot","t":"2015-03-22T15:24","v":2.05},
{"alt":200,"col":"red","sty":"dashdot","t":"2015-03-22T18:42","v":2.25},
{"alt":200,"col":"red","sty":"dashdot","t":"2015-03-22T20:00","v":2.18},
{"alt":200,"col":"red","sty":"dashdot","t":"2015-03-22T22:00","v":1.95},
{"alt":200,"col":"red","sty":"dashdot","t":"2015-03-23T00:00","v":1.81},
{"alt":200,"col":"green","sty":"dashdot","t":"2015-03-20T00:00","v":1.84},
{"alt":200,"col":"green","sty":"dashdot","t":"2015-03-20T05:24","v":1.85},
{"alt":200,"col":"green","sty":"dashdot","t":"2015-03-20T08:42","v":1.9},
{"alt":200,"col":"green","sty":"dashdot","t":"2015-03-20T10:24","v":2.0},
{"alt":200,"col":"green","sty":"dashdot","t":"2015-03-20T14:00","v":2.1},
{"alt":200,"col":"green","sty":"dashdot","t":"2015-03-20T18:48","v":2.31},
{"alt":200,"col":"green","sty":"dashdot","t":"2015-03-20T20:00","v":2.28},
{"alt":200,"col":"green","sty":"dashdot","t":"2015-03-20T22:12","v":1.98},
{"alt":200,"col":"green","sty":"dashdot","t":"2015-03-21T01:00","v":1.86},
{"alt":200,"col":"green","sty":"dashdot","t":"2015-03-21T05:00","v":1.82},
{"alt":200,"col":"green","sty":"dashdot","t":"2015-03-21T07:48","v":1.85},
{"alt":200,"col":"green","sty":"dashdot","t":"2015-03-21T10:48","v":2.0},
{"alt":200,"col":"green","sty":"dashdot","t":"2015-03-21T14:18","v":2.02},
{"alt":200,"col":"green","sty":"dashdot","t":"2015-03-21T16:30","v":2.12},
{"alt":200,"col":"green","sty":"dashdot","t":"2015-03-21T18:54","v":2.31},
{"alt":200,"col":"green","sty":"dashdot","t":"2015-03-21T20:30","v":2.22},
{"alt":200,"col":"green","sty":"dashdot","t":"2015-03-21T23:36","v":1.92},
{"alt":200,"col":"green","sty":"dashdot","t":"2015-03-22T04:54","v":1.82},
{"alt":200,"col":"green","sty":"dashdot","t":"2015-03-22T07:48","v":1.85},
{"alt":200,"col":"green","sty":"dashdot","t":"2015-03-22T09:36","v":1.92},
{"alt":200,"col":"green","sty":"dashdot","t":"2015-03-22T12:00","v":2.02},
{"alt":200,"col":"green","sty":"dashdot","t":"2015-03-22T15:24","v":2.12},
{"alt":200,"col":"green","sty":"dashdot","t":"2015-03-22T19:24","v":2.31},
{"alt":200,"col":"green","sty":"dashdot","t":"2015-03-22T21:00","v":2.2},
{"alt":200,"col":"green","sty":"dashdot","t":"2015-03-23T00:00","v":1.88}
]},
"bounds": "flush",
"spacing": 71,
"vconcat": [
{
"width": 717, "height": 135,
"title": {"text": "h\u2002=\u2002450\u2002km", "offset": -19, "fontSize": 26, "font": "Liberation Serif", "fontWeight": "normal", "color": "#000000"},
"transform": [{"filter": "datum.alt == 450"}],
"mark": {"type": "line", "clip": true},
"encoding": {
"x": {"field": "t", "type": "temporal", "scale": {"domain": [{"year":2015,"month":3,"date":20},{"year":2015,"month":3,"date":23}], "nice": false},
 "axis": {"title": null, "labels": false,
  "values": [{"year":2015,"month":3,"date":20,"hours":0,"minutes":0},{"year":2015,"month":3,"date":20,"hours":2,"minutes":24},{"year":2015,"month":3,"date":20,"hours":4,"minutes":48},{"year":2015,"month":3,"date":20,"hours":7,"minutes":12},{"year":2015,"month":3,"date":20,"hours":9,"minutes":36},{"year":2015,"month":3,"date":20,"hours":12,"minutes":0},{"year":2015,"month":3,"date":20,"hours":14,"minutes":24},{"year":2015,"month":3,"date":20,"hours":16,"minutes":48},{"year":2015,"month":3,"date":20,"hours":19,"minutes":12},{"year":2015,"month":3,"date":20,"hours":21,"minutes":36},{"year":2015,"month":3,"date":21,"hours":0,"minutes":0},{"year":2015,"month":3,"date":21,"hours":2,"minutes":24},{"year":2015,"month":3,"date":21,"hours":4,"minutes":48},{"year":2015,"month":3,"date":21,"hours":7,"minutes":12},{"year":2015,"month":3,"date":21,"hours":9,"minutes":36},{"year":2015,"month":3,"date":21,"hours":12,"minutes":0},{"year":2015,"month":3,"date":21,"hours":14,"minutes":24},{"year":2015,"month":3,"date":21,"hours":16,"minutes":48},{"year":2015,"month":3,"date":21,"hours":19,"minutes":12},{"year":2015,"month":3,"date":21,"hours":21,"minutes":36},{"year":2015,"month":3,"date":22,"hours":0,"minutes":0},{"year":2015,"month":3,"date":22,"hours":2,"minutes":24},{"year":2015,"month":3,"date":22,"hours":4,"minutes":48},{"year":2015,"month":3,"date":22,"hours":7,"minutes":12},{"year":2015,"month":3,"date":22,"hours":9,"minutes":36},{"year":2015,"month":3,"date":22,"hours":12,"minutes":0},{"year":2015,"month":3,"date":22,"hours":14,"minutes":24},{"year":2015,"month":3,"date":22,"hours":16,"minutes":48},{"year":2015,"month":3,"date":22,"hours":19,"minutes":12},{"year":2015,"month":3,"date":22,"hours":21,"minutes":36},{"year":2015,"month":3,"date":23,"hours":0,"minutes":0}],
  "gridDash": {"condition": {"test": "hours(datum.value) % 12 == 0 && minutes(datum.value) == 0", "value": []}, "value": [1, 3]},
  "gridColor": {"condition": {"test": "hours(datum.value) % 12 == 0 && minutes(datum.value) == 0", "value": "#dedede"}, "value": "#c2c2c2"},
  "gridOpacity": {"condition": {"test": "(date(datum.value) == 20 || date(datum.value) == 23) && hours(datum.value) == 0 && minutes(datum.value) == 0", "value": 0}, "value": 1},
  "tickColor": {"condition": {"test": "hours(datum.value) % 12 == 0 && minutes(datum.value) == 0", "value": "#262626"}, "value": "transparent"},
  "tickSize": -6}},
"y": {"field": "v", "type": "quantitative", "scale": {"type": "log", "domain": [0.06, 5], "nice": false},
 "axis": {"title": "×10⁻¹²", "titleAngle": 0, "titleX": 0, "titleY": -9, "titleAlign": "left", "titleBaseline": "alphabetic", "titleFontSize": 24, "titleFont": "Liberation Serif", "labelFont": "Liberation Serif",
  "values": [0.07,0.08,0.09,0.1,0.2,0.3,0.4,0.5,0.6,0.7,0.8,0.9,1,2,3,4],
  "labelExpr": "datum.value == 0.1 ? '0.1' : datum.value == 1 ? '1' : ''",
  "gridDash": {"condition": {"test": "datum.value == 0.1 || datum.value == 1", "value": []}, "value": [1, 3]},
  "gridColor": {"condition": {"test": "datum.value == 0.1 || datum.value == 1", "value": "#dedede"}, "value": "#c2c2c2"},
  "tickSize": -4, "labelPadding": 12}},
"color": {"field": "col", "type": "nominal", "scale": {"domain": ["blue","red","green"], "range": ["#0000ff","#ff0000","#00ff00"]}, "legend": null},
"strokeDash": {"field": "sty", "type": "nominal", "scale": {"domain": ["solid","dashdot"], "range": [[1,0],[9,4,2,4]]}, "legend": null}
}
},
{
"width": 717, "height": 135,
"title": {"text": "h\u2002=\u2002250\u2002km", "offset": -19, "fontSize": 26, "font": "Liberation Serif", "fontWeight": "normal", "color": "#000000"},
"transform": [{"filter": "datum.alt == 250"}],
"mark": {"type": "line", "clip": true},
"encoding": {
"x": {"field": "t", "type": "temporal", "scale": {"domain": [{"year":2015,"month":3,"date":20},{"year":2015,"month":3,"date":23}], "nice": false},
 "axis": {"title": null, "labels": false,
  "values": [{"year":2015,"month":3,"date":20,"hours":0,"minutes":0},{"year":2015,"month":3,"date":20,"hours":2,"minutes":24},{"year":2015,"month":3,"date":20,"hours":4,"minutes":48},{"year":2015,"month":3,"date":20,"hours":7,"minutes":12},{"year":2015,"month":3,"date":20,"hours":9,"minutes":36},{"year":2015,"month":3,"date":20,"hours":12,"minutes":0},{"year":2015,"month":3,"date":20,"hours":14,"minutes":24},{"year":2015,"month":3,"date":20,"hours":16,"minutes":48},{"year":2015,"month":3,"date":20,"hours":19,"minutes":12},{"year":2015,"month":3,"date":20,"hours":21,"minutes":36},{"year":2015,"month":3,"date":21,"hours":0,"minutes":0},{"year":2015,"month":3,"date":21,"hours":2,"minutes":24},{"year":2015,"month":3,"date":21,"hours":4,"minutes":48},{"year":2015,"month":3,"date":21,"hours":7,"minutes":12},{"year":2015,"month":3,"date":21,"hours":9,"minutes":36},{"year":2015,"month":3,"date":21,"hours":12,"minutes":0},{"year":2015,"month":3,"date":21,"hours":14,"minutes":24},{"year":2015,"month":3,"date":21,"hours":16,"minutes":48},{"year":2015,"month":3,"date":21,"hours":19,"minutes":12},{"year":2015,"month":3,"date":21,"hours":21,"minutes":36},{"year":2015,"month":3,"date":22,"hours":0,"minutes":0},{"year":2015,"month":3,"date":22,"hours":2,"minutes":24},{"year":2015,"month":3,"date":22,"hours":4,"minutes":48},{"year":2015,"month":3,"date":22,"hours":7,"minutes":12},{"year":2015,"month":3,"date":22,"hours":9,"minutes":36},{"year":2015,"month":3,"date":22,"hours":12,"minutes":0},{"year":2015,"month":3,"date":22,"hours":14,"minutes":24},{"year":2015,"month":3,"date":22,"hours":16,"minutes":48},{"year":2015,"month":3,"date":22,"hours":19,"minutes":12},{"year":2015,"month":3,"date":22,"hours":21,"minutes":36},{"year":2015,"month":3,"date":23,"hours":0,"minutes":0}],
  "gridDash": {"condition": {"test": "hours(datum.value) % 12 == 0 && minutes(datum.value) == 0", "value": []}, "value": [1, 3]},
  "gridColor": {"condition": {"test": "hours(datum.value) % 12 == 0 && minutes(datum.value) == 0", "value": "#dedede"}, "value": "#c2c2c2"},
  "gridOpacity": {"condition": {"test": "(date(datum.value) == 20 || date(datum.value) == 23) && hours(datum.value) == 0 && minutes(datum.value) == 0", "value": 0}, "value": 1},
  "tickColor": {"condition": {"test": "hours(datum.value) % 12 == 0 && minutes(datum.value) == 0", "value": "#262626"}, "value": "transparent"},
  "tickSize": -6}},
"y": {"field": "v", "type": "quantitative", "scale": {"type": "log", "domain": [2, 8], "nice": false},
 "axis": {"title": "×10⁻¹¹", "titleAngle": 0, "titleX": 0, "titleY": -9, "titleAlign": "left", "titleBaseline": "alphabetic", "titleFontSize": 24, "titleFont": "Liberation Serif", "labelFont": "Liberation Serif",
  "values": [2,2.5,3,3.5,4,4.5,5,5.5,6,6.5,7,7.5,8],
  "labelExpr": "indexof([2,4,8], datum.value) >= 0 ? datum.label : ''",
  "gridDash": {"condition": {"test": "indexof([2,4,8], datum.value) >= 0", "value": []}, "value": [1, 3]},
  "gridColor": {"condition": {"test": "indexof([2,4,8], datum.value) >= 0", "value": "#dedede"}, "value": "#c2c2c2"},
  "gridOpacity": {"condition": {"test": "datum.value == 2 || datum.value == 8", "value": 0}, "value": 1},
  "tickSize": -4, "labelPadding": 12}},
"color": {"field": "col", "type": "nominal", "scale": {"domain": ["blue","red","green"], "range": ["#0000ff","#ff0000","#00ff00"]}, "legend": null},
"strokeDash": {"field": "sty", "type": "nominal", "scale": {"domain": ["solid","dashdot"], "range": [[1,0],[9,4,2,4]]}, "legend": null}
}
},
{
"width": 717, "height": 135,
"title": {"text": "h\u2002=\u2002200\u2002km", "offset": -19, "fontSize": 26, "font": "Liberation Serif", "fontWeight": "normal", "color": "#000000"},
"transform": [{"filter": "datum.alt == 200"}],
"mark": {"type": "line", "clip": true},
"encoding": {
"x": {"field": "t", "type": "temporal", "scale": {"domain": [{"year":2015,"month":3,"date":20},{"year":2015,"month":3,"date":23}], "nice": false},
 "axis": {"title": null, "labelFont": "Liberation Serif",
  "values": [{"year":2015,"month":3,"date":20,"hours":0,"minutes":0},{"year":2015,"month":3,"date":20,"hours":2,"minutes":24},{"year":2015,"month":3,"date":20,"hours":4,"minutes":48},{"year":2015,"month":3,"date":20,"hours":7,"minutes":12},{"year":2015,"month":3,"date":20,"hours":9,"minutes":36},{"year":2015,"month":3,"date":20,"hours":12,"minutes":0},{"year":2015,"month":3,"date":20,"hours":14,"minutes":24},{"year":2015,"month":3,"date":20,"hours":16,"minutes":48},{"year":2015,"month":3,"date":20,"hours":19,"minutes":12},{"year":2015,"month":3,"date":20,"hours":21,"minutes":36},{"year":2015,"month":3,"date":21,"hours":0,"minutes":0},{"year":2015,"month":3,"date":21,"hours":2,"minutes":24},{"year":2015,"month":3,"date":21,"hours":4,"minutes":48},{"year":2015,"month":3,"date":21,"hours":7,"minutes":12},{"year":2015,"month":3,"date":21,"hours":9,"minutes":36},{"year":2015,"month":3,"date":21,"hours":12,"minutes":0},{"year":2015,"month":3,"date":21,"hours":14,"minutes":24},{"year":2015,"month":3,"date":21,"hours":16,"minutes":48},{"year":2015,"month":3,"date":21,"hours":19,"minutes":12},{"year":2015,"month":3,"date":21,"hours":21,"minutes":36},{"year":2015,"month":3,"date":22,"hours":0,"minutes":0},{"year":2015,"month":3,"date":22,"hours":2,"minutes":24},{"year":2015,"month":3,"date":22,"hours":4,"minutes":48},{"year":2015,"month":3,"date":22,"hours":7,"minutes":12},{"year":2015,"month":3,"date":22,"hours":9,"minutes":36},{"year":2015,"month":3,"date":22,"hours":12,"minutes":0},{"year":2015,"month":3,"date":22,"hours":14,"minutes":24},{"year":2015,"month":3,"date":22,"hours":16,"minutes":48},{"year":2015,"month":3,"date":22,"hours":19,"minutes":12},{"year":2015,"month":3,"date":22,"hours":21,"minutes":36},{"year":2015,"month":3,"date":23,"hours":0,"minutes":0}],
  "labelExpr": "hours(datum.value) == 0 && minutes(datum.value) == 0 ? timeFormat(datum.value, '%d/%m') : ''",
  "labelAngle": -45, "labelAlign": "right", "labelBaseline": "middle", "labelPadding": 21, "labelOffset": 9,
  "gridDash": {"condition": {"test": "hours(datum.value) % 12 == 0 && minutes(datum.value) == 0", "value": []}, "value": [1, 3]},
  "gridColor": {"condition": {"test": "hours(datum.value) % 12 == 0 && minutes(datum.value) == 0", "value": "#dedede"}, "value": "#c2c2c2"},
  "gridOpacity": {"condition": {"test": "(date(datum.value) == 20 || date(datum.value) == 23) && hours(datum.value) == 0 && minutes(datum.value) == 0", "value": 0}, "value": 1},
  "tickColor": {"condition": {"test": "hours(datum.value) % 12 == 0 && minutes(datum.value) == 0", "value": "#262626"}, "value": "transparent"},
  "tickSize": -6}},
"y": {"field": "v", "type": "quantitative", "scale": {"type": "log", "domain": [1, 4], "nice": false},
 "axis": {"title": "×10⁻¹⁰", "titleAngle": 0, "titleX": 0, "titleY": -9, "titleAlign": "left", "titleBaseline": "alphabetic", "titleFontSize": 24, "titleFont": "Liberation Serif", "labelFont": "Liberation Serif",
  "values": [1,1.2,1.4,1.6,1.8,2,2.5,3,3.5,4],
  "labelExpr": "indexof([1,2,4], datum.value) >= 0 ? datum.label : ''",
  "gridDash": {"condition": {"test": "indexof([1,2,4], datum.value) >= 0", "value": []}, "value": [1, 3]},
  "gridColor": {"condition": {"test": "indexof([1,2,4], datum.value) >= 0", "value": "#dedede"}, "value": "#c2c2c2"},
  "gridOpacity": {"condition": {"test": "datum.value == 1 || datum.value == 4", "value": 0}, "value": 1},
  "tickSize": -4, "labelPadding": 12}},
"color": {"field": "col", "type": "nominal", "scale": {"domain": ["blue","red","green"], "range": ["#0000ff","#ff0000","#00ff00"]}, "legend": null},
"strokeDash": {"field": "sty", "type": "nominal", "scale": {"domain": ["solid","dashdot"], "range": [[1,0],[9,4,2,4]]}, "legend": null}
}
}
],
"config": {
"view": {"stroke": "#262626", "strokeWidth": 1},
"font": "Liberation Serif",
"axis": {"labelFont": "Liberation Serif", "labelFontSize": 24, "labelColor": "#262626", "domain": false, "tickWidth": 1, "tickColor": "#262626", "titleFont": "Liberation Serif", "titleFontWeight": "normal", "titleColor": "#262626", "labelFlush": false, "labelOverlap": false, "labelBound": false, "gridWidth": 1},
"title": {"font": "Liberation Serif", "fontWeight": "normal", "color": "#000000"},
"line": {"strokeWidth": 2.8, "interpolate": "monotone"}
}
}
